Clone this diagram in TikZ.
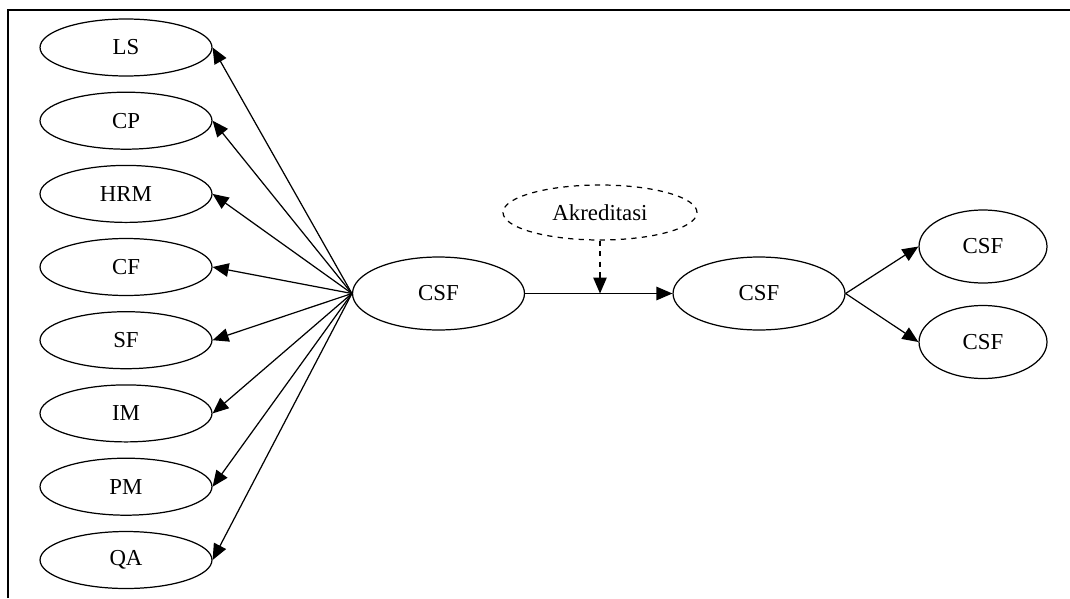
\documentclass[tikz,border=0pt]{standalone}
\usepackage{fontspec}
\setmainfont{Liberation Serif}
\usetikzlibrary{shapes.geometric,arrows.meta}
\begin{document}
\begin{tikzpicture}[x=0.02cm,y=-0.02cm,
  every node/.style={font=\fontsize{13}{15}\selectfont},
  oval/.style={draw,ellipse,line width=0.7pt,inner sep=0pt,minimum width=3.44cm,minimum height=1.14cm},
  bigoval/.style={oval,minimum height=1.46cm},
  smalloval/.style={oval,minimum width=2.56cm,minimum height=1.46cm},
  dashoval/.style={oval,dashed,minimum width=3.88cm,minimum height=1.1cm},
  arr/.style={line width=0.7pt,-{Triangle[length=0.32cm,width=0.27cm]}},
  darr/.style={arr,dashed}]
\useasboundingbox (0,0) rectangle (1070,598);
\draw[line width=0.9pt] (8,598) -- (8,10) -- (1070,10);
\node[oval] (ls)  at (126,47.5) {LS};
\node[oval] (cp)  at (126,120.7) {CP};
\node[oval] (hrm) at (126,193.9) {HRM};
\node[oval] (cf)  at (126,267) {CF};
\node[oval] (sf)  at (126,340.2) {SF};
\node[oval] (im)  at (126,413.4) {IM};
\node[oval] (pm)  at (126,486.7) {PM};
\node[oval] (qa)  at (126,560) {QA};
\node[bigoval] (csf1) at (438.5,293.5) {CSF};
\node[bigoval] (csf2) at (759,293.5) {CSF};
\node[dashoval] (akr) at (600,212.5) {Akreditasi};
\node[smalloval] (csf3) at (983,246.5) {CSF};
\node[smalloval] (csf4) at (983,342) {CSF};
\coordinate (mid) at (akr.south |- csf1.east);
\foreach \n in {ls,cp,hrm,cf,sf,im,pm,qa} \draw[arr] (csf1.west) -- (\n.east);
\draw[arr] (csf1.east) -- (csf2.west);
\draw[darr] (akr.south) -- (mid);
\draw[arr] (csf2.east) -- (csf3.west);
\draw[arr] (csf2.east) -- (csf4.west);
\end{tikzpicture}
\end{document}
